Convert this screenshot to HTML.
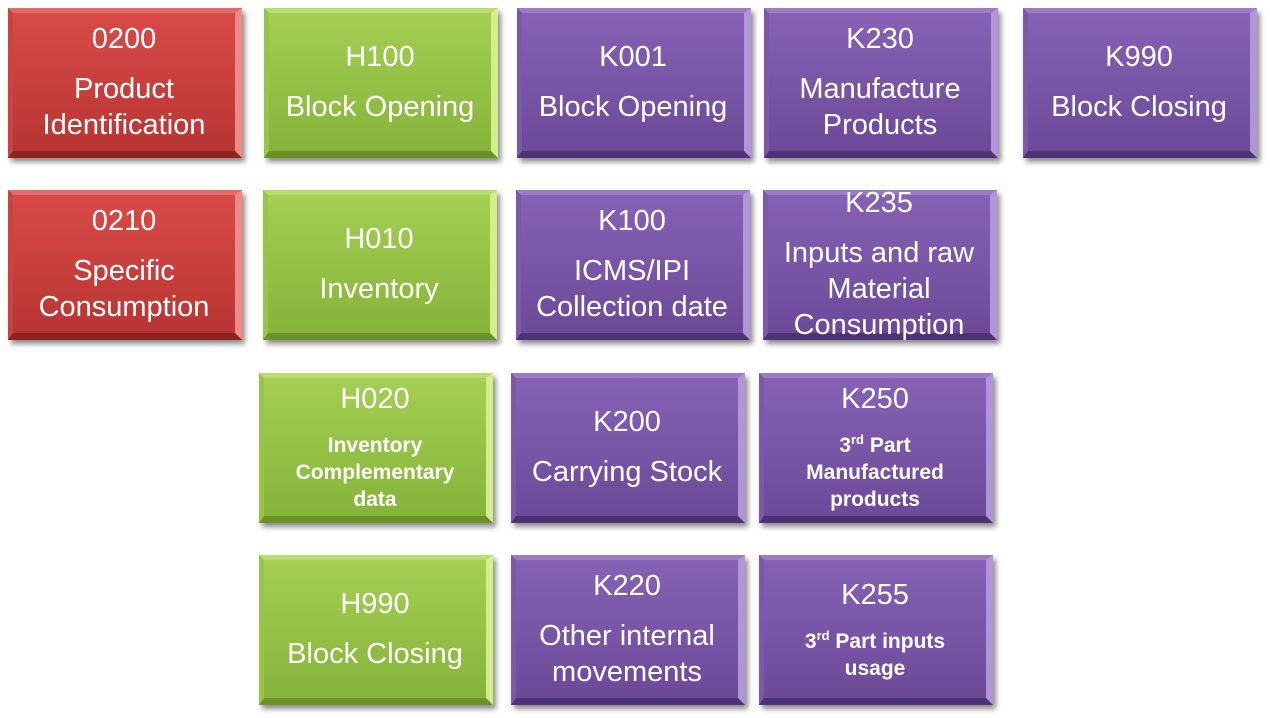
<!DOCTYPE html>
<html><head><meta charset="utf-8"><style>
body{margin:0;width:1270px;height:718px;background:#fff;position:relative;overflow:hidden;font-family:"Liberation Sans",sans-serif}
.b{position:absolute;width:234px;height:150px;box-sizing:border-box;color:#fff;text-align:center;display:flex;flex-direction:column;justify-content:center;font-size:29px;line-height:36px;box-shadow:3px 4px 5px rgba(0,0,0,.45);border-style:solid;border-width:5px 7px 7px 5px;white-space:nowrap}
.b i{font-style:normal;display:block;margin-bottom:14px}
.r{background:linear-gradient(#d94a48,#b83533);border-color:#e26a68 #f08a88 #8e2220 #c84442}
.g{background:linear-gradient(#a4cf54,#86b33a);border-color:#b9dd70 #d2ef8a #6a9228 #98c449}
.p{background:linear-gradient(#8661b5,#6c4a98);border-color:#9a7cc4 #b096d6 #4e3275 #7b58a8}
.s{font-size:21px;line-height:27px;font-weight:bold}
.t i{margin-bottom:15px}
sup{font-size:13px;line-height:0}
</style></head><body>
<div class="b r" style="left:8px;top:8px"><i>0200</i>Product<br>Identification</div>
<div class="b g" style="left:264px;top:8px"><i>H100</i>Block Opening</div>
<div class="b p" style="left:517px;top:8px"><i>K001</i>Block Opening</div>
<div class="b p" style="left:764px;top:8px"><i>K230</i>Manufacture<br>Products</div>
<div class="b p" style="left:1023px;top:8px"><i>K990</i>Block Closing</div>

<div class="b r" style="left:8px;top:190px"><i>0210</i>Specific<br>Consumption</div>
<div class="b g" style="left:263px;top:190px"><i>H010</i>Inventory</div>
<div class="b p" style="left:516px;top:190px"><i>K100</i>ICMS/IPI<br>Collection date</div>
<div class="b p" style="left:763px;top:190px"><i>K235</i>Inputs and raw<br>Material<br>Consumption</div>

<div class="b g t" style="left:259px;top:373px"><i>H020</i><div class="s">Inventory<br>Complementary<br>data</div></div>
<div class="b p" style="left:511px;top:373px"><i>K200</i>Carrying Stock</div>
<div class="b p t" style="left:759px;top:373px"><i>K250</i><div class="s">3<sup>rd</sup> Part<br>Manufactured<br>products</div></div>

<div class="b g" style="left:259px;top:555px"><i>H990</i>Block Closing</div>
<div class="b p" style="left:511px;top:555px"><i>K220</i>Other internal<br>movements</div>
<div class="b p t" style="left:759px;top:555px"><i>K255</i><div class="s">3<sup>rd</sup> Part inputs<br>usage</div></div>
</body></html>
